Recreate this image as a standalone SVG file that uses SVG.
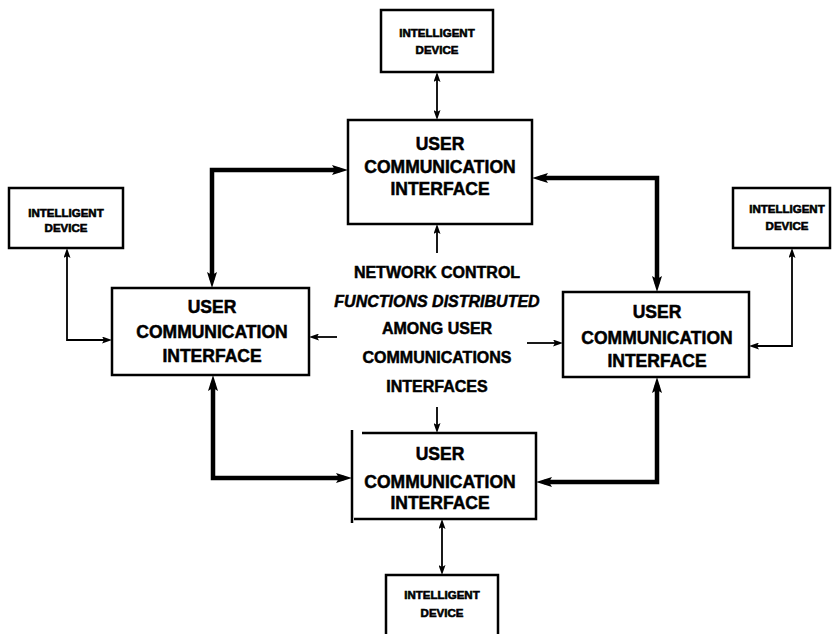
<svg xmlns="http://www.w3.org/2000/svg" width="835" height="634" viewBox="0 0 835 634">
<style>
.box{fill:none;stroke:#000;stroke-width:2.5}
.t{font-family:"Liberation Sans",Arial,Helvetica,sans-serif;font-weight:bold;text-anchor:middle;fill:#000;stroke:#000;stroke-width:0.5}
.u{font-size:17.5px}
.d{font-size:11.5px;stroke-width:0.6}
.c{font-size:16px}
.thin{fill:none;stroke:#000;stroke-width:1.8;marker-start:url(#a);marker-end:url(#a)}
.thin1{fill:none;stroke:#000;stroke-width:1.8;marker-end:url(#a)}
.thick{fill:none;stroke:#000;stroke-width:4.5;marker-start:url(#b);marker-end:url(#b)}
</style>
<defs>
<marker id="a" viewBox="0 0 10 7" refX="5" refY="3.5" markerWidth="10" markerHeight="7" markerUnits="userSpaceOnUse" orient="auto-start-reverse"><path d="M0,0 L10,3.5 L0,7 L2,3.5z" fill="#000"/></marker>
<marker id="b" viewBox="0 0 16 10" refX="8" refY="5" markerWidth="16" markerHeight="10" markerUnits="userSpaceOnUse" orient="auto-start-reverse"><path d="M0,0 L16,5 L0,10 L3,5z" fill="#000"/></marker>
</defs>
<rect width="835" height="634" fill="#fff"/>

<g id="connectors">
<path class="thin" d="M437,77 V115"/>
<path class="thin" d="M67,253 V340 H107"/>
<path class="thin" d="M792,253 V346 H754"/>
<path class="thin" d="M442,524 V570"/>
<path class="thin1" d="M437,253 V229"/>
<path class="thin1" d="M337,337 H314"/>
<path class="thin1" d="M527,343 H558"/>
<path class="thin1" d="M437,407 V428"/>
<path class="thick" d="M340,170 H212 V280"/>
<path class="thick" d="M540,178 H657 V284"/>
<path class="thick" d="M213,383 V478 H344"/>
<path class="thick" d="M657,385 V482 H544"/>
</g>

<g id="id-top">
<rect class="box" x="381" y="10" width="112" height="62"/>
<text class="t d" x="437" y="37">INTELLIGENT</text>
<text class="t d" x="437" y="54">DEVICE</text>
</g>
<g id="id-left">
<rect class="box" x="9" y="188" width="114" height="60"/>
<text class="t d" x="66" y="217">INTELLIGENT</text>
<text class="t d" x="66" y="232">DEVICE</text>
</g>
<g id="id-right">
<rect class="box" x="733" y="188" width="97" height="60"/>
<text class="t d" x="787" y="213">INTELLIGENT</text>
<text class="t d" x="787" y="230">DEVICE</text>
</g>
<g id="id-bottom">
<path class="box" d="M386,634 V575 H498 V634"/>
<text class="t d" x="442" y="599">INTELLIGENT</text>
<text class="t d" x="442" y="617">DEVICE</text>
</g>

<g id="uci-top">
<rect class="box" x="348" y="120" width="184" height="104"/>
<text class="t u" x="440" y="150">USER</text>
<text class="t u" x="440" y="173">COMMUNICATION</text>
<text class="t u" x="440" y="195">INTERFACE</text>
</g>
<g id="uci-left">
<rect class="box" x="112" y="288" width="197" height="87"/>
<text class="t u" x="212" y="313">USER</text>
<text class="t u" x="212" y="338">COMMUNICATION</text>
<text class="t u" x="212" y="362">INTERFACE</text>
</g>
<g id="uci-right">
<rect class="box" x="563" y="292" width="186" height="85"/>
<text class="t u" x="657" y="318">USER</text>
<text class="t u" x="657" y="344">COMMUNICATION</text>
<text class="t u" x="657" y="367">INTERFACE</text>
</g>
<g id="uci-bottom">
<path class="box" d="M352,430 V523"/>
<path class="box" d="M362,433 H536 V519 H354"/>
<text class="t u" x="440" y="460">USER</text>
<text class="t u" x="440" y="488">COMMUNICATION</text>
<text class="t u" x="440" y="509">INTERFACE</text>
</g>

<g id="center-label">
<text class="t c" x="437" y="278">NETWORK CONTROL</text>
<text class="t c" x="437" y="307" font-style="italic">FUNCTIONS DISTRIBUTED</text>
<text class="t c" x="437" y="334">AMONG USER</text>
<text class="t c" x="437" y="363">COMMUNICATIONS</text>
<text class="t c" x="437" y="392">INTERFACES</text>
</g>
</svg>
